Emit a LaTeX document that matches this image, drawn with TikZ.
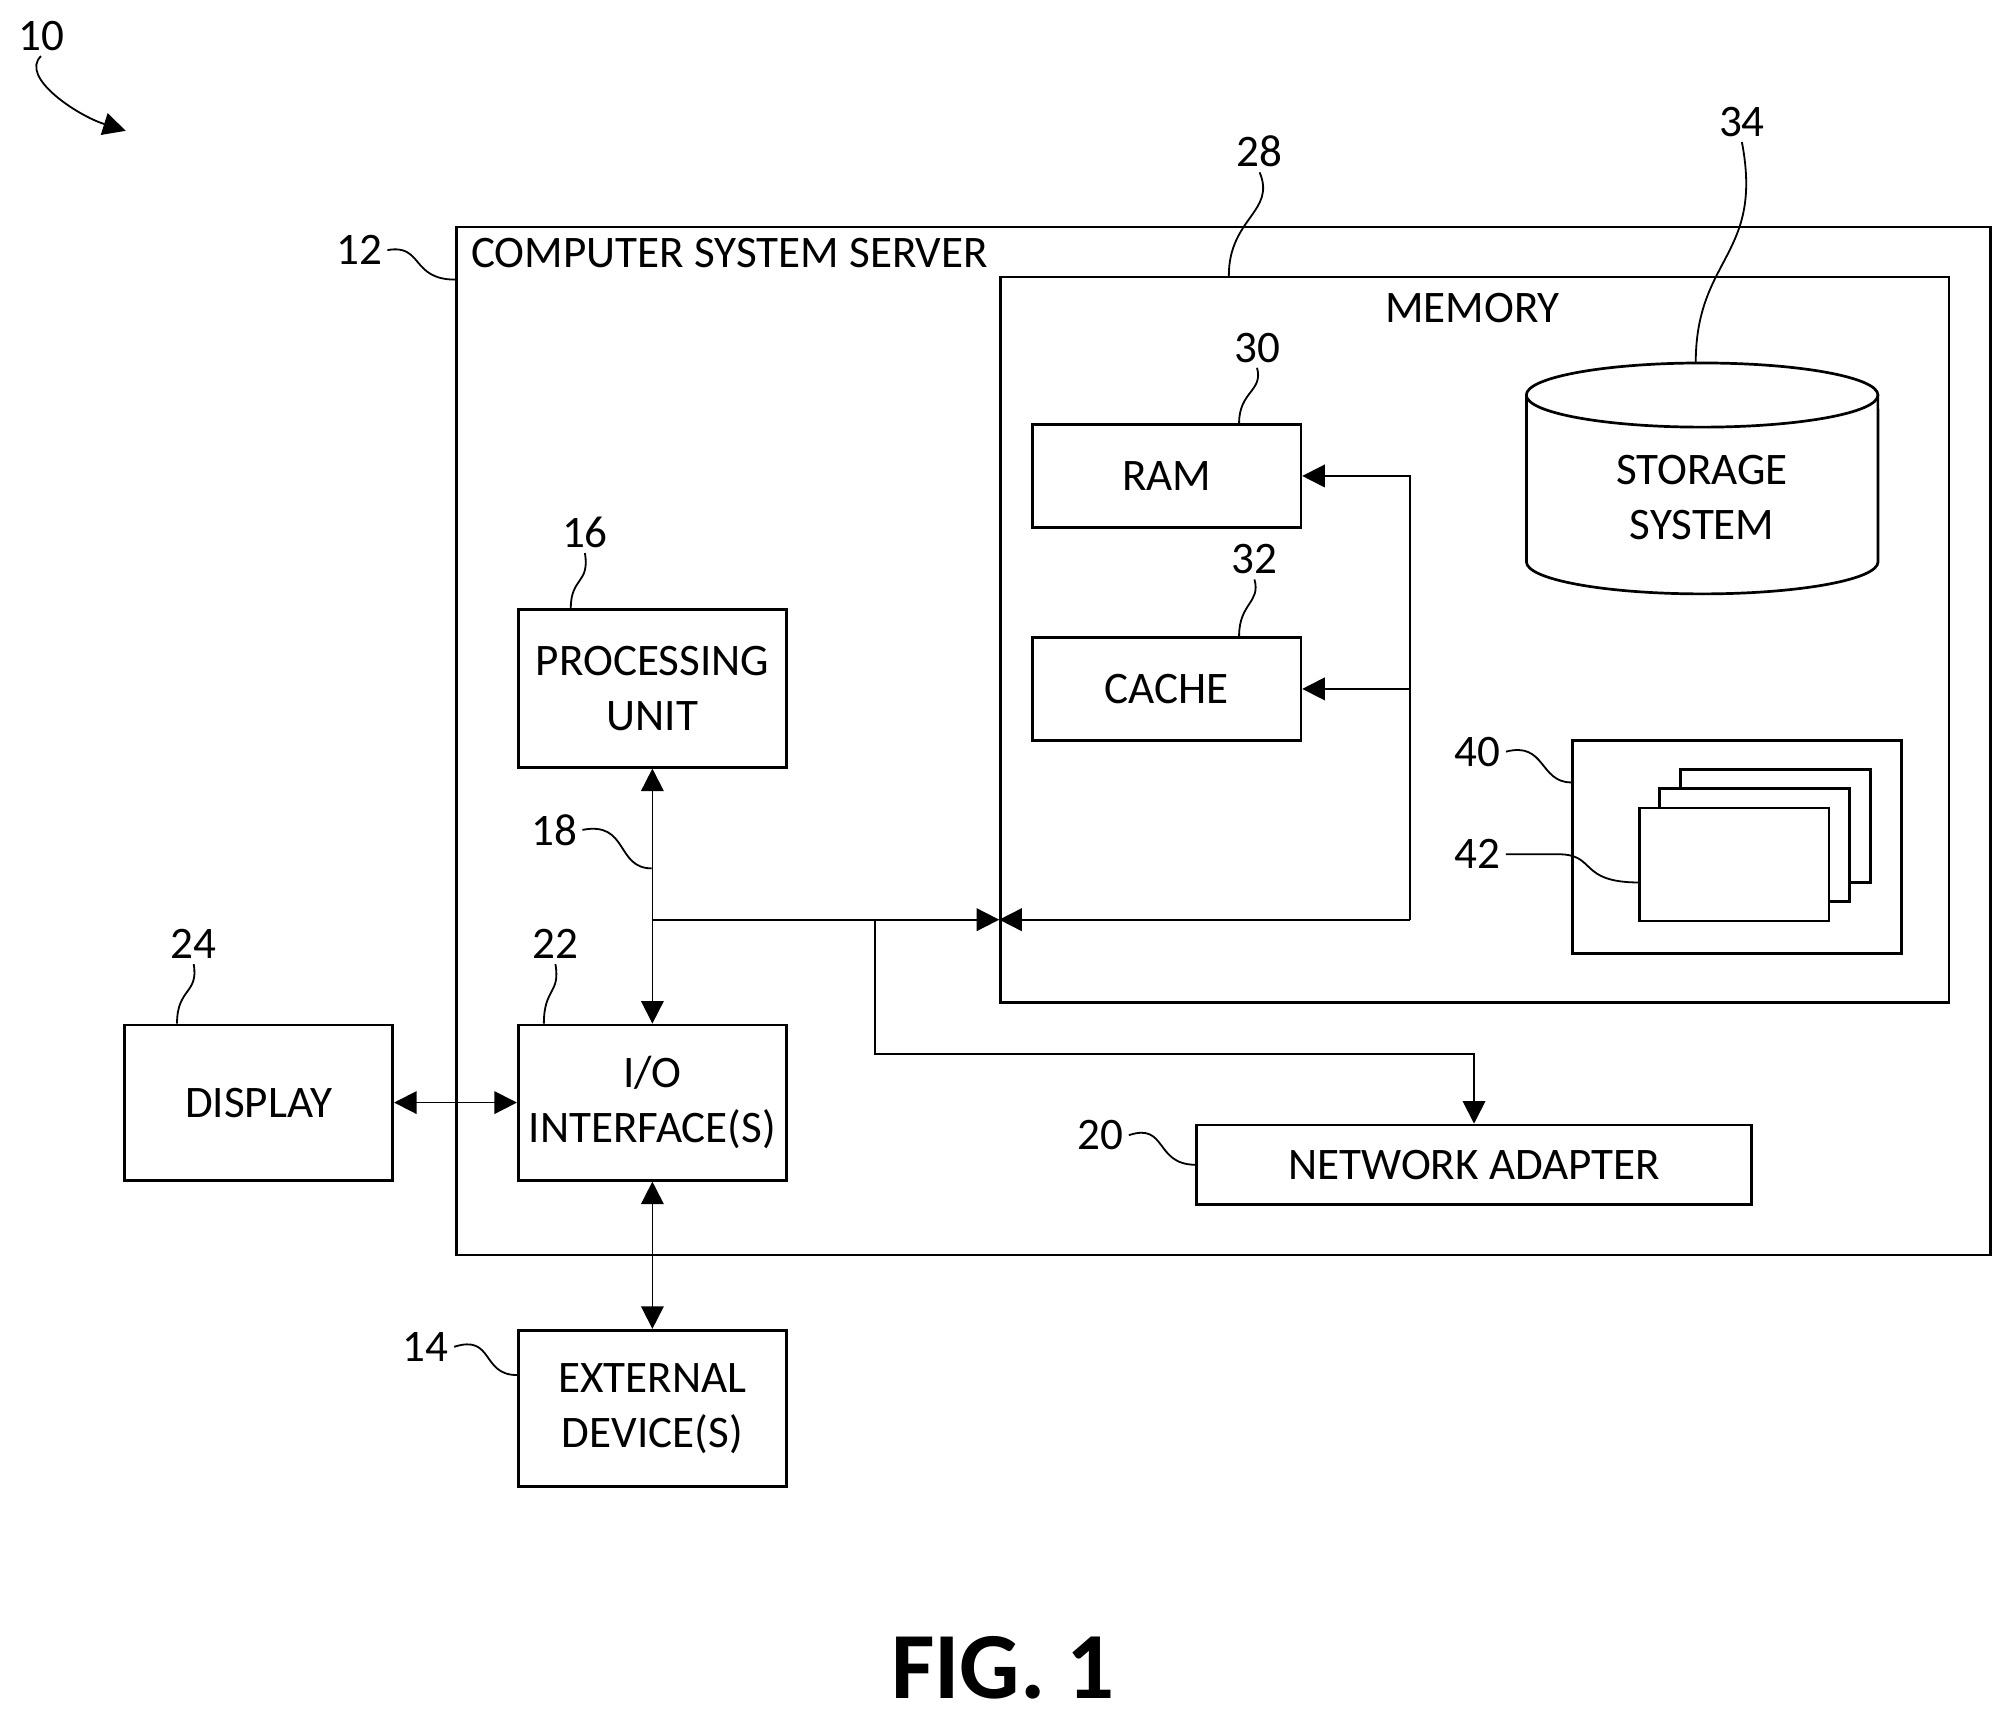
\documentclass[tikz,border=0pt]{standalone}
\usepackage{fontspec}
\setmainfont{Carlito}
\usetikzlibrary{arrows.meta, shapes.geometric}

\begin{document}
\begin{tikzpicture}[x=0.01cm, y=-0.01cm, font=\fontsize{10}{12.2}\selectfont]
	\tikzset{box/.style={draw, semithick, inner sep=0pt, align=center},
		bus/.style={draw, thin, {Triangle[width=5pt,length=5pt]}-{Triangle[width=5pt,length=5pt]}},
		onearrow/.style={draw, thin, -{Triangle[width=5pt,length=5pt]}},
		lead/.style={draw, thin},
		ref/.style={inner sep=1pt}}
	\useasboundingbox (0,0) rectangle (1560,1337);

	% frames
	\node[box, minimum width=11.95cm, minimum height=8.01cm, anchor=north west] (server) at (355,176) {};
	\node[anchor=west] at (355,197) {COMPUTER SYSTEM SERVER};
	\node[box, minimum width=7.39cm, minimum height=5.65cm, anchor=north west] (memory) at (779,215) {};
	\node at (1148,240) {MEMORY};

	% boxes
	\node[box, minimum width=2.09cm, minimum height=0.8cm, anchor=north west] (ram) at (804,330) {RAM};
	\node[box, minimum width=2.09cm, minimum height=0.8cm, anchor=north west] (cache) at (804,496) {CACHE};
	\node[box, minimum width=2.09cm, minimum height=1.23cm, anchor=north west] (cpu) at (403,474) {PROCESSING\\UNIT};
	\node[box, minimum width=2.09cm, minimum height=1.21cm, anchor=north west] (io) at (403,798) {I/O\\INTERFACE(S)};
	\node[box, minimum width=2.09cm, minimum height=1.21cm, anchor=north west] (display) at (96,798) {DISPLAY};
	\node[box, minimum width=2.09cm, minimum height=1.22cm, anchor=north west] (ext) at (403,1036) {EXTERNAL\\DEVICE(S)};
	\node[box, minimum width=4.32cm, minimum height=0.62cm, anchor=north west] (net) at (932,876) {NETWORK ADAPTER};

	% storage
	\draw[semithick, fill=white] (1190,308) -- (1190,438) arc[x radius=1.37cm, y radius=0.25cm, start angle=180, end angle=360] -- (1464,308);
	\draw[semithick] (1327,308) ellipse[x radius=1.37cm, y radius=0.25cm];
	\node[align=center] (storage) at (1327,388) {STORAGE\\SYSTEM};
	\coordinate (stortop) at (1322,283);

	% program modules
	\node[box, minimum width=2.56cm, minimum height=1.66cm, anchor=north west] (pgm) at (1225,576) {};
	\foreach \i in {0,1,2}
		\draw[semithick, fill=white] (1310-16*\i,600+15*\i) rectangle ++(148,88);
	\coordinate (mod) at (1278,688);

	% bus
	\coordinate (j1) at (508,717);
	\coordinate (j2) at (682,717);
	\coordinate (mleft) at (779,717);
	\coordinate (j3) at (1099,717);
	\draw[bus] (cpu.south) -- (io.north);
	\draw[onearrow] (j1) -- (mleft);
	\draw[onearrow] (j3) -- (mleft);
	\draw[onearrow] (j3) |- (ram.east);
	\draw[onearrow] (j3 |- cache.east) -- (cache.east);
	\draw[onearrow] (j2) -- (682,822) -| (net.north);
	\draw[bus] (display.east) -- (io.west);
	\draw[bus] (io.south) -- (ext.north);

	% reference numerals
	\node[ref] (n10) at (32,28) {10};
	\coordinate (p10) at (98,102);
	\draw[onearrow] (n10.south) .. controls (15,60) and (60,90) .. (p10);
	\node[ref] (n12) at (280,195) {12};
	\draw[lead] (n12.east) .. controls (330,190) and (320,218) .. (server.north west |- 0,218);
	\node[ref] (n28) at (982,118) {28};
	\draw[lead] (n28.south) .. controls (995,165) and (958,170) .. (958,215);
	\node[ref] (n34) at (1358,95) {34};
	\draw[lead] (n34.south) .. controls (1375,200) and (1322,200) .. (stortop);
	\node[ref] (n30) at (980,271) {30};
	\draw[lead] (n30.south) .. controls (985,305) and (966,305) .. (ram.north -| 966,0);
	\node[ref] (n32) at (978,436) {32};
	\draw[lead] (n32.south) .. controls (983,470) and (966,470) .. (cache.north -| 966,0);
	\node[ref] (n16) at (456,415) {16};
	\draw[lead] (n16.south) .. controls (460,455) and (445,450) .. (cpu.north -| 445,0);
	\node[ref] (n18) at (432,647) {18};
	\draw[lead] (n18.east) .. controls (490,640) and (480,677) .. (508,677);
	\node[ref] (n22) at (433,736) {22};
	\draw[lead] (n22.south) .. controls (437,775) and (424,770) .. (io.north -| 424,0);
	\node[ref] (n24) at (151,736) {24};
	\draw[lead] (n24.south) .. controls (155,775) and (138,770) .. (display.north -| 138,0);
	\node[ref] (n20) at (858,885) {20};
	\draw[lead] (n20.east) .. controls (910,875) and (900,908) .. (net.west);
	\node[ref] (n14) at (332,1050) {14};
	\draw[lead] (n14.east) .. controls (385,1040) and (375,1072) .. (ext.west |- 0,1072);
	\node[ref] (n40) at (1152,586) {40};
	\draw[lead] (n40.east) .. controls (1205,578) and (1200,610) .. (pgm.west |- 0,610);
	\node[ref] (n42) at (1152,666) {42};
	\draw[lead] (n42.east) -- (1215,666) .. controls (1245,666) and (1230,688) .. (mod);

	\node[font=\fontsize{21}{25}\selectfont\bfseries] (fig) at (782,1300) {FIG. 1};
\end{tikzpicture}
\end{document}
